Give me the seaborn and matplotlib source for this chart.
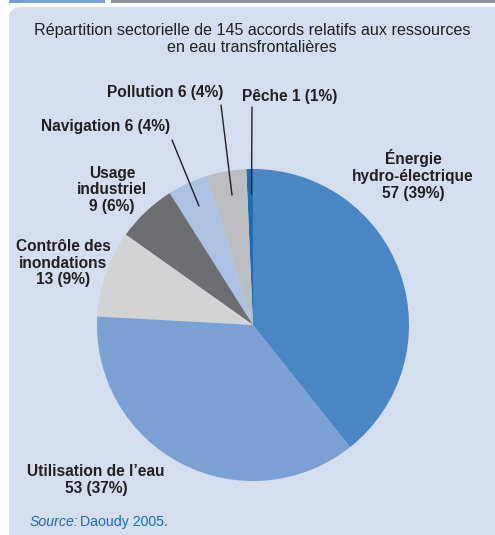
import matplotlib
matplotlib.use("Agg")
import matplotlib.pyplot as plt
from matplotlib.patches import FancyBboxPatch, Rectangle
import seaborn as sns

sns.set_style("white")
plt.rcParams['font.family'] = ['Liberation Sans Narrow', 'Liberation Sans', 'DejaVu Sans']

# --- DATA ---
sectors = ["Pêche", "Pollution", "Navigation", "Usage\nindustriel",
           "Contrôle des\ninondations", "Utilisation de l’eau", "Énergie\nhydro-électrique"]
counts = [1, 6, 6, 9, 13, 53, 57]
percents = [1, 4, 4, 6, 9, 37, 39]
colors = ["#1f6db5", "#bcbdc0", "#adc2e3", "#6d6e71", "#d2d3d5", "#7ba0d4", "#4a86c4"]

title = "Répartition sectorielle de 145 accords relatifs aux ressources\nen eau transfrontalières"

W, H = 495, 535
fig = plt.figure(figsize=(W / 100, H / 100), dpi=100)
ax = fig.add_axes([0, 0, 1, 1])

def py(y):
    # pixel row (from top) -> data y
    return H - y

# panel background + top strip
ax.add_patch(FancyBboxPatch((9, -20), W + 20, py(7) + 20,
                            boxstyle="round,pad=0,rounding_size=12",
                            facecolor="#d4deef", edgecolor="none", zorder=0))
ax.add_patch(Rectangle((9, py(2.5)), 96, 3, facecolor="#7ba0d4", edgecolor="none", zorder=0))
ax.add_patch(Rectangle((111, py(2.5)), W - 111, 3, facecolor="#8d8e91", edgecolor="none", zorder=0))

# pie
ax.pie(counts, colors=colors, startangle=90, counterclock=True,
       center=(253, py(325)), radius=156, frame=True,
       wedgeprops=dict(linewidth=0, edgecolor="none"))
ax.set_xlim(0, W)
ax.set_ylim(0, H)
ax.axis("off")

ax.text(252, py(39), title, ha="center", va="center", fontsize=11.6,
        color="#231f20", linespacing=1.25, fontweight="medium")

lab = dict(ha="center", va="center", fontsize=11.2, fontweight="bold",
           color="#231f20", linespacing=1.15)

def label(i):
    return f"{sectors[i]} {counts[i]} ({percents[i]}%)"

ax.text(290, py(96), label(0), **lab)
ax.text(165, py(93), label(1), **lab)
ax.text(106, py(127), label(2), **lab)
ax.text(112, py(190), f"{sectors[3]}\n{counts[3]} ({percents[3]}%)", **lab)
ax.text(63, py(263), f"{sectors[4]}\n{counts[4]} ({percents[4]}%)", **lab)
ax.text(96, py(480), f"{sectors[5]}\n{counts[5]} ({percents[5]}%)", **lab)
ax.text(413, py(175), f"{sectors[6]}\n{counts[6]} ({percents[6]}%)", **lab)

# leader lines
ax.plot([252, 251.5], [py(107), py(194)], color="#231f20", lw=1)
ax.plot([221, 232], [py(105), py(195)], color="#231f20", lw=1)
ax.plot([172, 199], [py(140), py(206)], color="#231f20", lw=1)

ax.text(30, py(522), "Source:", ha="left", va="center", fontsize=10.2,
        style="italic", color="#1a6fb8")
ax.text(80, py(522), "Daoudy 2005.", ha="left", va="center", fontsize=10.2,
        color="#1a6fb8")

fig.savefig("out.png", dpi=100, facecolor="white")
